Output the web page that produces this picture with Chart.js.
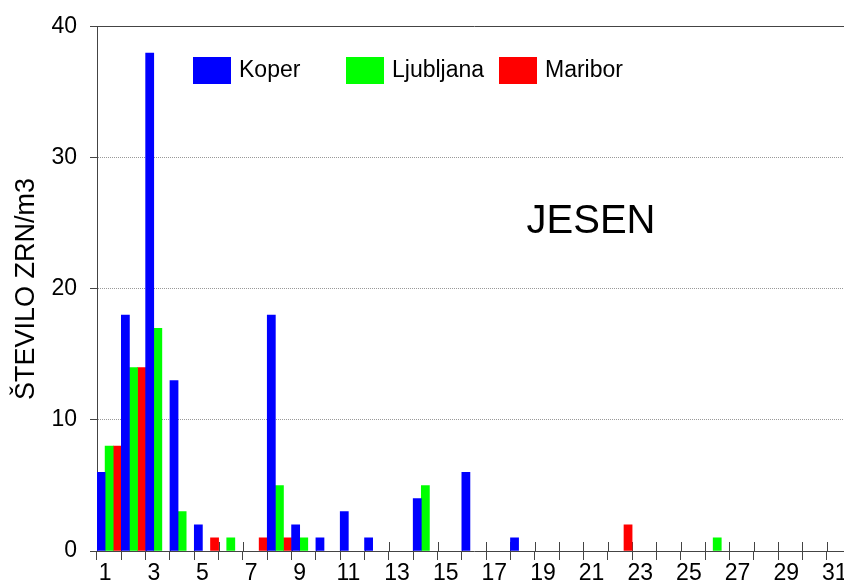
<!DOCTYPE html>
<html>
<head>
<meta charset="utf-8">
<script src="https://cdn.jsdelivr.net/npm/chart.js@4/dist/chart.umd.min.js"></script>
<style>
  html, body { margin: 0; padding: 0; background: #fff; }
  #wrap { width: 844px; height: 583px; overflow: hidden; }
</style>
</head>
<body>
<div id="wrap"><canvas id="chart" width="862" height="583"></canvas></div>
<script>
// Days of the month (categories)
const days = ['1','2','3','4','5','6','7','8','9','10','11','12','13','14','15','16',
              '17','18','19','20','21','22','23','24','25','26','27','28','29','30','31'];

// Pollen counts per station
const koper =     [6, 18, 38, 13, 2, 0, 0, 18, 2, 1, 3, 1, 0, 4, 0, 6, 0, 1, 0, 0, 0, 0, 0, 0, 0, 0, 0, 0, 0, 0, 0];
const ljubljana = [8, 14, 17, 3, 0, 1, 0, 5, 1, 0, 0, 0, 0, 5, 0, 0, 0, 0, 0, 0, 0, 0, 0, 0, 0, 1, 0, 0, 0, 0, 0];
const maribor =   [8, 14, 0, 0, 1, 0, 1, 1, 0, 0, 0, 0, 0, 0, 0, 0, 0, 0, 0, 0, 0, 2, 0, 0, 0, 0, 0, 0, 0, 0, 0];

const yTicks = [0, 10, 20, 30, 40];
const seriesNames = ['Koper', 'Ljubljana', 'Maribor'];
const seriesColors = ['#0000ff', '#00ff00', '#ff0000'];
const seasonLabel = 'JESEN';
const yTitle = 'ŠTEVILO ZRN/m3';

const FONT = "'Liberation Sans', Arial, sans-serif";
const axisColor = '#444';

// Ticks on the x axis that cross the axis line (upper half)
const crossTicks = {
    id: 'crossTicks',
    beforeDatasetsDraw(chart) {
        const x = chart.scales.x;
        const bottom = chart.chartArea.bottom;
        const half = (x.getPixelForValue(1) - x.getPixelForValue(0)) / 2;
        const ctx = chart.ctx;
        ctx.save();
        ctx.strokeStyle = axisColor;
        ctx.lineWidth = 1;
        ctx.beginPath();
        for (let i = 0; i <= days.length; i++) {
            const px = Math.round(x.getPixelForValue(i) - half) + 0.5;
            ctx.moveTo(px, bottom - 9);
            ctx.lineTo(px, bottom);
        }
        ctx.stroke();
        ctx.restore();
    }
};

// Legend in the plot, fixed slots, plus the season label
const insideText = {
    id: 'insideText',
    afterDraw(chart) {
        const ctx = chart.ctx;
        const slots = [193, 346, 499];
        ctx.save();
        ctx.font = '23px ' + FONT;
        ctx.textBaseline = 'middle';
        ctx.textAlign = 'left';
        chart.data.datasets.forEach((ds, i) => {
            ctx.fillStyle = seriesColors[i];
            ctx.fillRect(slots[i], 57, 38, 27);
            ctx.fillStyle = '#000';
            ctx.fillText(ds.label, slots[i] + 46, 71);
        });
        ctx.font = '40px ' + FONT;
        ctx.textAlign = 'center';
        ctx.fillText(seasonLabel, 591, 222);
        ctx.restore();
    }
};

// zero values are not drawn at all
const barColor = i => c => (c.raw === 0 ? 'rgba(0,0,0,0)' : seriesColors[i]);

new Chart(document.getElementById('chart'), {
    type: 'bar',
    data: {
        labels: days,
        datasets: [
            { label: seriesNames[0], data: koper, backgroundColor: barColor(0) },
            { label: seriesNames[1], data: ljubljana, backgroundColor: barColor(1) },
            { label: seriesNames[2], data: maribor, backgroundColor: barColor(2) }
        ]
    },
    options: {
        responsive: false,
        devicePixelRatio: 1,
        animation: false,
        layout: { padding: { left: 0, top: 26, right: 11, bottom: 0 } },
        datasets: {
            bar: { categoryPercentage: 1.0, barPercentage: 1.0, borderWidth: 0 }
        },
        scales: {
            x: {
                afterFit: s => { s.height = 32; },
                border: { color: axisColor, width: 1 },
                grid: {
                    drawOnChartArea: false,
                    tickLength: 9,
                    color: axisColor,
                    tickColor: axisColor
                },
                ticks: {
                    autoSkip: false,
                    maxRotation: 0,
                    padding: 0,
                    labelOffset: -4,
                    color: '#000',
                    font: { family: FONT, size: 23 },
                    callback: (v, i) => (i % 2 === 0 ? days[i] : '')
                }
            },
            y: {
                min: yTicks[0],
                max: yTicks[yTicks.length - 1],
                afterFit: s => { s.width = 97; },
                afterBuildTicks: s => { s.ticks = yTicks.map(v => ({ value: v })); },
                border: {
                    color: axisColor,
                    width: 1,
                    dash: c => (c.tick && c.tick.value === 40 ? [] : [1, 1])
                },
                grid: {
                    tickLength: 7,
                    tickColor: axisColor,
                    color: c => {
                        if (!c.tick) return '#999';
                        if (c.tick.value === 0) return 'rgba(0,0,0,0)';
                        if (c.tick.value === 40) return axisColor;
                        return '#999';
                    }
                },
                ticks: {
                    padding: 13,
                    color: '#000',
                    font: { family: FONT, size: 23 }
                },
                title: {
                    display: true,
                    text: yTitle,
                    color: '#000',
                    font: { family: FONT, size: 27 },
                    padding: { top: 10, bottom: 0 }
                }
            }
        },
        plugins: {
            legend: { display: false },
            tooltip: { enabled: false }
        }
    },
    plugins: [crossTicks, insideText]
});
</script>
</body>
</html>
